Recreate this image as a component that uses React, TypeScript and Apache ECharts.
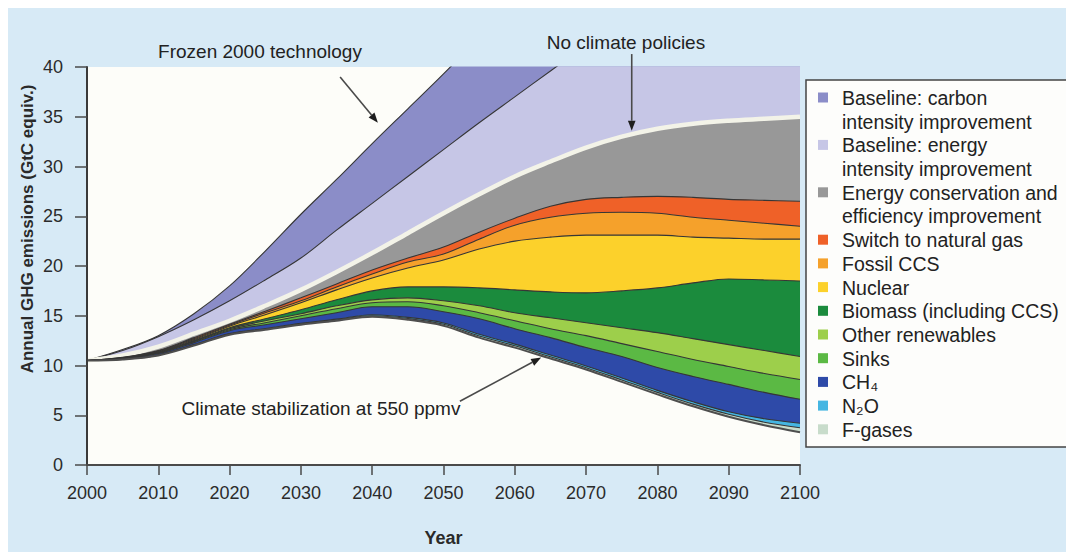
import React, { useEffect, useRef } from "react";
import * as echarts from "echarts";

// ---- data (GtC equiv.), top boundary of each layer ----
const years = [2000, 2005, 2010, 2015, 2020, 2025, 2030, 2035, 2040, 2045, 2050, 2055, 2060, 2065, 2070, 2075, 2080, 2085, 2090, 2095, 2100];

const frozenTech = [10.5, 11.6, 13.0, 15.2, 18.0, 21.5, 25.2, 28.7, 32.3, 35.8, 39.3, 43.0, 46.5, 50.0, 53.5, 57.0, 60.5, 64.0, 67.5, 71.0, 74.5];
const energyIntensityTop = [10.5, 11.5, 12.9, 14.6, 16.5, 18.6, 20.8, 23.6, 26.3, 29.0, 31.7, 34.4, 37.0, 39.6, 42.2, 44.8, 47.4, 50.0, 52.6, 55.2, 57.8];
const noClimatePolicies = [10.5, 11.0, 11.9, 13.2, 14.5, 16.0, 17.6, 19.4, 21.3, 23.3, 25.3, 27.2, 29.0, 30.5, 31.9, 33.0, 33.8, 34.3, 34.6, 34.8, 35.0];
const naturalGasTop = [10.5, 10.82, 11.5, 12.8, 14.15, 15.45, 16.8, 18.2, 19.6, 20.8, 21.9, 23.4, 24.8, 26.0, 26.7, 26.9, 27.0, 26.9, 26.7, 26.6, 26.5];
const fossilCcsTop = [10.5, 10.8, 11.45, 12.7, 14.05, 15.3, 16.5, 17.9, 19.2, 20.4, 21.2, 22.7, 24.1, 24.9, 25.3, 25.4, 25.3, 24.9, 24.6, 24.3, 24.0];
const nuclearTop = [10.5, 10.78, 11.4, 12.6, 13.95, 15.1, 16.3, 17.6, 18.8, 19.8, 20.6, 21.7, 22.5, 22.9, 23.1, 23.1, 23.1, 22.9, 22.8, 22.7, 22.7];
const biomassTop = [10.5, 10.76, 11.35, 12.5, 13.8, 14.7, 15.6, 16.6, 17.5, 17.9, 17.9, 17.8, 17.6, 17.4, 17.3, 17.5, 17.8, 18.3, 18.7, 18.6, 18.5];
const renewablesTop = [10.5, 10.74, 11.3, 12.45, 13.7, 14.5, 15.2, 16.0, 16.6, 16.8, 16.5, 16.0, 15.3, 14.8, 14.3, 13.8, 13.3, 12.7, 12.1, 11.5, 10.9];
const sinksTop = [10.5, 10.72, 11.25, 12.4, 13.6, 14.3, 15.0, 15.7, 16.3, 16.4, 16.0, 15.3, 14.5, 13.7, 13.0, 12.2, 11.4, 10.6, 9.9, 9.2, 8.6];
const ch4Top = [10.5, 10.7, 11.2, 12.3, 13.5, 14.1, 14.7, 15.3, 15.9, 15.9, 15.4, 14.7, 13.7, 12.8, 11.8, 10.9, 9.8, 8.9, 8.1, 7.3, 6.6];
const n2oTop = [10.5, 10.64, 11.08, 12.1, 13.2, 13.72, 14.24, 14.66, 15.1, 14.84, 14.28, 13.14, 12.15, 11.05, 9.95, 8.75, 7.5, 6.35, 5.35, 4.65, 4.2];
const fGasesTop = [10.5, 10.62, 11.04, 12.05, 13.15, 13.66, 14.17, 14.58, 15.0, 14.72, 14.14, 12.97, 11.98, 10.88, 9.78, 8.55, 7.3, 6.12, 5.1, 4.3, 3.75];
const stabilization550 = [10.5, 10.6, 11.0, 12.0, 13.1, 13.6, 14.1, 14.5, 14.9, 14.6, 14.0, 12.8, 11.8, 10.7, 9.6, 8.35, 7.1, 5.9, 4.85, 4.0, 3.3];

const layerNames = [
  "Baseline: carbon\nintensity improvement",
  "Baseline: energy\nintensity improvement",
  "Energy conservation and\nefficiency improvement",
  "Switch to natural gas",
  "Fossil CCS",
  "Nuclear",
  "Biomass (including CCS)",
  "Other renewables",
  "Sinks",
  "CH₄",
  "N₂O",
  "F-gases",
];
const layerTops = [
  frozenTech, energyIntensityTop, noClimatePolicies, naturalGasTop, fossilCcsTop, nuclearTop,
  biomassTop, renewablesTop, sinksTop, ch4Top, n2oTop, fGasesTop,
];
const layerColors = [
  "#8b8dc8", "#c6c6e6", "#989898", "#ef6128", "#f5a12b", "#fcd12b",
  "#1b8b3d", "#9dcf4b", "#5bb944", "#2e4aa8", "#45b6e2", "#c8dccb",
];
const xTicks = { min: 2000, max: 2100, step: 10 };
const yTicks = { min: 0, max: 40, step: 5 };

const FONT = "'Liberation Sans', Arial, Helvetica, sans-serif";
const PLOT_BG = "#fdfdf9";
const PAGE_BG = "#d7eaf6";

export default function App() {
  const ref = useRef<HTMLDivElement>(null);

  useEffect(() => {
    if (!ref.current) return;
    const chart = echarts.init(ref.current, null, { renderer: "svg" });

    const series: any[] = layerTops.map((vals, i) => ({
      name: layerNames[i],
      type: "line",
      data: years.map((y, k) => [y, vals[k]]),
      symbol: "none",
      smooth: 0.35,
      clip: true,
      lineStyle:
        i === 2
          ? { color: "#f3f3e8", width: 4.5 }
          : { color: "#363636", width: 1.1 },
      areaStyle: { color: layerColors[i], opacity: 1 },
      emphasis: { disabled: true },
      silent: true,
      z: 2,
    }));
    series.push({
      name: "Climate stabilization at 550 ppmv",
      type: "line",
      data: years.map((y, k) => [y, stabilization550[k]]),
      symbol: "none",
      smooth: 0.35,
      lineStyle: { color: "#4e4e4e", width: 2 },
      areaStyle: { color: PLOT_BG, opacity: 1 },
      emphasis: { disabled: true },
      silent: true,
      z: 2,
    });

    chart.setOption({
      animation: false,
      backgroundColor: PAGE_BG,
      textStyle: { fontFamily: FONT },
      grid: {
        left: 87, top: 67, right: 266, bottom: 82,
        show: true, backgroundColor: PLOT_BG, borderWidth: 0,
      },
      xAxis: {
        type: "value",
        min: xTicks.min, max: xTicks.max, interval: xTicks.step,
        z: 5,
        name: "Year",
        nameLocation: "middle",
        nameGap: 64,
        nameTextStyle: { fontFamily: FONT, fontSize: 18, fontWeight: "bold", color: "#2a2a2a" },
        axisLine: { show: true, onZero: false, lineStyle: { color: "#4a4a4a", width: 2 } },
        axisTick: { show: true, length: 10, lineStyle: { color: "#4a4a4a", width: 1.5 } },
        axisLabel: { fontFamily: FONT, fontSize: 18, color: "#2b2b2b", margin: 19, formatter: (v: number) => String(v) },
        splitLine: { show: false },
      },
      yAxis: {
        type: "value",
        min: yTicks.min, max: yTicks.max, interval: yTicks.step,
        z: 5,
        axisLine: { show: true, lineStyle: { color: "#3a3a3a", width: 2 } },
        axisTick: { show: true, length: 12, lineStyle: { color: "#4a4a4a", width: 1.5 } },
        axisLabel: { fontFamily: FONT, fontSize: 18, color: "#2b2b2b", margin: 24 },
        splitLine: { show: false },
      },
      series,
    });

    // ---- annotations (arrows anchored in data space) ----
    const toPx = (p: number[]) => chart.convertToPixel({ gridIndex: 0 }, p) as number[];
    const arrow = (a: number[], b: number[]) => {
      const p1 = toPx(a);
      const p2 = toPx(b);
      const dx = p2[0] - p1[0];
      const dy = p2[1] - p1[1];
      const len = Math.sqrt(dx * dx + dy * dy);
      const ux = dx / len, uy = dy / len;
      const L = 10, W = 3.8;
      const bx = p2[0] - ux * L, by = p2[1] - uy * L;
      return [
        {
          type: "line",
          shape: { x1: p1[0], y1: p1[1], x2: bx, y2: by },
          style: { stroke: "#4a4a4a", lineWidth: 1.6 },
          z: 20,
        },
        {
          type: "polygon",
          shape: { points: [[p2[0], p2[1]], [bx - uy * W, by + ux * W], [bx + uy * W, by - ux * W]] },
          style: { fill: "#1e1e1e" },
          z: 20,
        },
      ];
    };

    const annText = (text: string, x: number, y: number) => ({
      type: "text",
      x, y, z: 20,
      style: { text, fontFamily: FONT, fontSize: 19, fill: "#222", textAlign: "center", textVerticalAlign: "middle" },
    });

    // ---- legend box ----
    const lineH = 23.7;
    const legendItems: any[] = [
      {
        type: "rect",
        shape: { x: 806, y: 80, width: 290, height: 367 },
        style: { fill: "#fdfdfb", stroke: "#444", lineWidth: 1.5 },
        z: 10,
      },
    ];
    let lineIdx = 0;
    layerNames.forEach((name, i) => {
      const cy = 98 + lineIdx * lineH;
      legendItems.push({
        type: "rect",
        shape: { x: 818, y: cy - 5.5, width: 10, height: 10 },
        style: { fill: layerColors[i] },
        z: 11,
      });
      legendItems.push({
        type: "text",
        x: 842, y: cy - lineH / 2, z: 11,
        style: {
          text: name, fontFamily: FONT, fontSize: 19.5, fill: "#222",
          lineHeight: lineH, textAlign: "left", textVerticalAlign: "top",
        },
      });
      lineIdx += name.split("\n").length;
    });

    chart.setOption({
      graphic: [
        // white page margins (top and left) as in the reference
        { type: "rect", shape: { x: 0, y: 0, width: 1066, height: 8 }, style: { fill: "#ffffff" }, z: 0 },
        { type: "rect", shape: { x: 0, y: 0, width: 8, height: 552 }, style: { fill: "#ffffff" }, z: 0 },
        ...legendItems,
        annText("Frozen 2000 technology", 260, 51),
        annText("No climate policies", 626, 42),
        annText("Climate stabilization at 550 ppmv", 321, 408),
        ...arrow([2035.5, 39.0], [2040.8, 34.4]),
        ...arrow([2076.4, 41.3], [2076.4, 33.6]),
        ...arrow([2052.3, 6.4], [2063.7, 10.8]),
        {
          type: "text",
          x: 27, y: 229, rotation: Math.PI / 2, z: 20,
          style: {
            text: "Annual GHG emissions (GtC equiv.)", fontFamily: FONT, fontSize: 17,
            fontWeight: "bold", fill: "#2a2a2a", textAlign: "center", textVerticalAlign: "middle",
          },
        },
      ],
    });

    return () => chart.dispose();
  }, []);

  return (
    <div style={{ position: "fixed", left: 0, top: 0, width: 1066, height: 552, overflow: "hidden" }}>
      <div ref={ref} style={{ position: "absolute", left: 0, top: 0, width: 1066, height: 552 }} />
    </div>
  );
}
